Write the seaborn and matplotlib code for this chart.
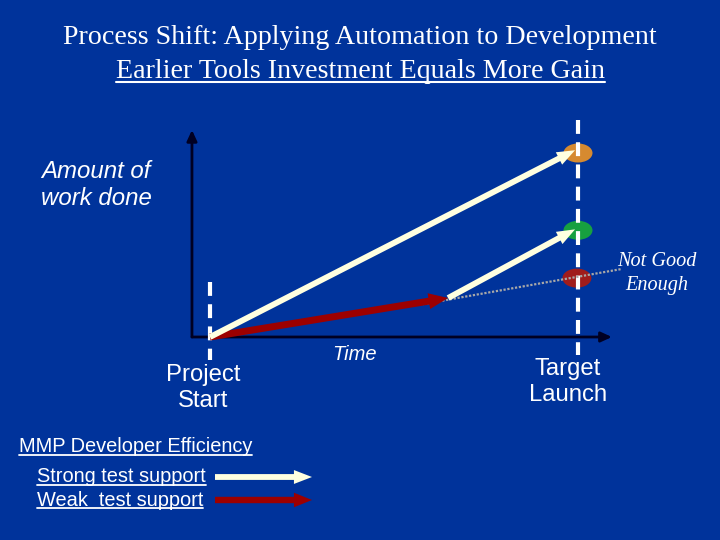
import matplotlib
matplotlib.use("Agg")
import matplotlib.pyplot as plt
import seaborn as sns
import pandas as pd
from matplotlib.patches import Ellipse, FancyArrowPatch
from matplotlib.lines import Line2D

# ---------------- data ----------------
title_lines = ["Process Shift: Applying Automation to Development",
               "Earlier Tools Investment Equals More Gain"]
y_label = "Amount of\nwork done"
x_label = "Time"
milestone_labels = ["Project\nStart", "Target\nLaunch"]
milestone_time = [0.0, 10.0]

# strong test support from the start
strong_early_time = [0.0, 9.92]
strong_early_work = [0.0, 101.5]
# weak test support first, then strong
weak_time = [0.0, 6.47]
weak_work = [0.0, 21.2]
strong_late_time = [6.47, 9.92]
strong_late_work = [21.2, 58.5]
# trend if weak support continues
trend_time = [5.79, 11.2]
trend_work = [17.9, 37.0]
trend_label = "Not Good\nEnough"

outcome_names = ["early tools", "late tools", "no tools"]
outcome_time = [10.0, 10.0, 9.97]
outcome_work = [100.0, 58.0, 32.0]
outcome_colors = ["#D68A30", "#17A040", "#A01C1C"]

legend_title = "MMP Developer Efficiency"
legend_labels = ["Strong test support", "Weak  test support"]

axis_time = [-0.49, 10.92]
axis_work_top = 112.5

BG = "#00339B"
CREAM = "#FFFFE0"
DARKRED = "#9C0000"

# ---------------- figure ----------------
sns.set_style("white")
plt.rcParams["lines.scale_dashes"] = False
fig = plt.figure(figsize=(7.2, 5.4), dpi=100, facecolor=BG)
ax = fig.add_axes([0, 0, 1, 1])
ax.set_facecolor(BG)
ax.axis("off")
# map data to page: time 0 -> px 210, 1 unit = 36.8px ; work 0 -> px 337, 1 unit = 1.84px
ax.set_xlim(-210 / 36.8, 510 / 36.8)
ax.set_ylim(-203 / 1.84, 337 / 1.84)

# axes with arrowheads
for (x0, y0), (x1, y1) in [((axis_time[0], 0), (axis_time[0], axis_work_top)),
                           ((axis_time[0], 0), (axis_time[1], 0))]:
    ax.add_patch(FancyArrowPatch((x0, y0), (x1, y1),
                                 arrowstyle="-|>,head_length=6.5,head_width=3",
                                 mutation_scale=1, color="#000022", lw=2.0,
                                 shrinkA=0, shrinkB=0, zorder=2))

# milestone dashed lines
ms_top = [30.0, 118.0]
ms_bot = [-12.5, -9.8]
for t, top, bot in zip(milestone_time, ms_top, ms_bot):
    ax.plot([t, t], [top, bot], color="white", lw=3.0,
            dashes=(10, 6), zorder=4)

# outcome ellipses
for t, w, c in zip(outcome_time, outcome_work, outcome_colors):
    ax.add_patch(Ellipse((t, w), width=29 / 36.8, height=19 / 1.84,
                         facecolor=c, edgecolor="none", zorder=3))

# trend dotted line via seaborn
df_trend = pd.DataFrame({"time": trend_time, "work": trend_work})
sns.lineplot(data=df_trend, x="time", y="work", ax=ax, color="#A8A8A8",
             lw=1.6, linestyle=(0, (1.6, 1.2)), zorder=4)


def arrow(ts, ws, color, tail, hw, hl, z=5):
    ax.add_patch(FancyArrowPatch((ts[0], ws[0]), (ts[1], ws[1]),
                                 arrowstyle=f"simple,tail_width={tail},head_width={hw},head_length={hl}",
                                 mutation_scale=1, color=color, lw=0,
                                 shrinkA=0, shrinkB=0, zorder=z))


arrow(weak_time, weak_work, DARKRED, 5.0, 11.5, 14, z=5)
arrow(strong_early_time, strong_early_work, CREAM, 4.2, 10, 13, z=6)
arrow(strong_late_time, strong_late_work, CREAM, 4.2, 10, 13, z=6)

# ---------------- texts ----------------
W, H = 720.0, 540.0
def ftext(x, y, s, **kw):
    return fig.text(x / W, 1 - y / H, s, color="white", ha="center", va="center", **kw)

t1 = ftext(360, 37, title_lines[0], family="Liberation Serif", fontsize=20.2)
t2 = ftext(360, 72, title_lines[1], family="Liberation Serif", fontsize=20.2)
ftext(96, 185, y_label, family="Liberation Sans", style="italic", fontsize=17.3,
      linespacing=1.25)
ftext(657, 273.5, trend_label, family="Liberation Serif", style="italic", fontsize=14.6,
      linespacing=1.4)
ftext(203, 388, milestone_labels[0], family="Liberation Sans", fontsize=17.2,
      linespacing=1.28)
ftext(568, 382, milestone_labels[1], family="Liberation Sans", fontsize=17.2,
      linespacing=1.28)
ftext(355, 355, x_label, family="Liberation Sans", style="italic", fontsize=14.5)

lt = fig.text(19 / W, 1 - 447 / H, legend_title, color="white", ha="left", va="center",
              family="Liberation Sans", fontsize=14.4)
l1 = fig.text(37 / W, 1 - 477 / H, legend_labels[0], color="white", ha="left", va="center",
              family="Liberation Sans", fontsize=14.4)
l2 = fig.text(37 / W, 1 - 500 / H, legend_labels[1], color="white", ha="left", va="center",
              family="Liberation Sans", fontsize=14.4)

# legend arrows
for y, c, tw, hw in [(477, CREAM, 4.2, 10), (500, DARKRED, 4.6, 10.5)]:
    fig.patches.append(FancyArrowPatch((215 / W, 1 - y / H), (312 / W, 1 - y / H),
                                       transform=fig.transFigure,
                                       arrowstyle=f"simple,tail_width={tw},head_width={hw},head_length=13",
                                       mutation_scale=1, color=c, lw=0,
                                       shrinkA=0, shrinkB=0))

# underlines
fig.canvas.draw()
r = fig.canvas.get_renderer()
for t, gap, lw in [(t2, 3, 1.5), (lt, 2, 1.3), (l1, 2, 1.3), (l2, 2, 1.3)]:
    bb = t.get_window_extent(r)
    y = bb.y0 + gap
    fig.lines.append(Line2D([bb.x0 / W, bb.x1 / W], [y / H, y / H],
                            transform=fig.transFigure, color="white", lw=lw))

fig.savefig("out.png", dpi=100, facecolor=BG)
